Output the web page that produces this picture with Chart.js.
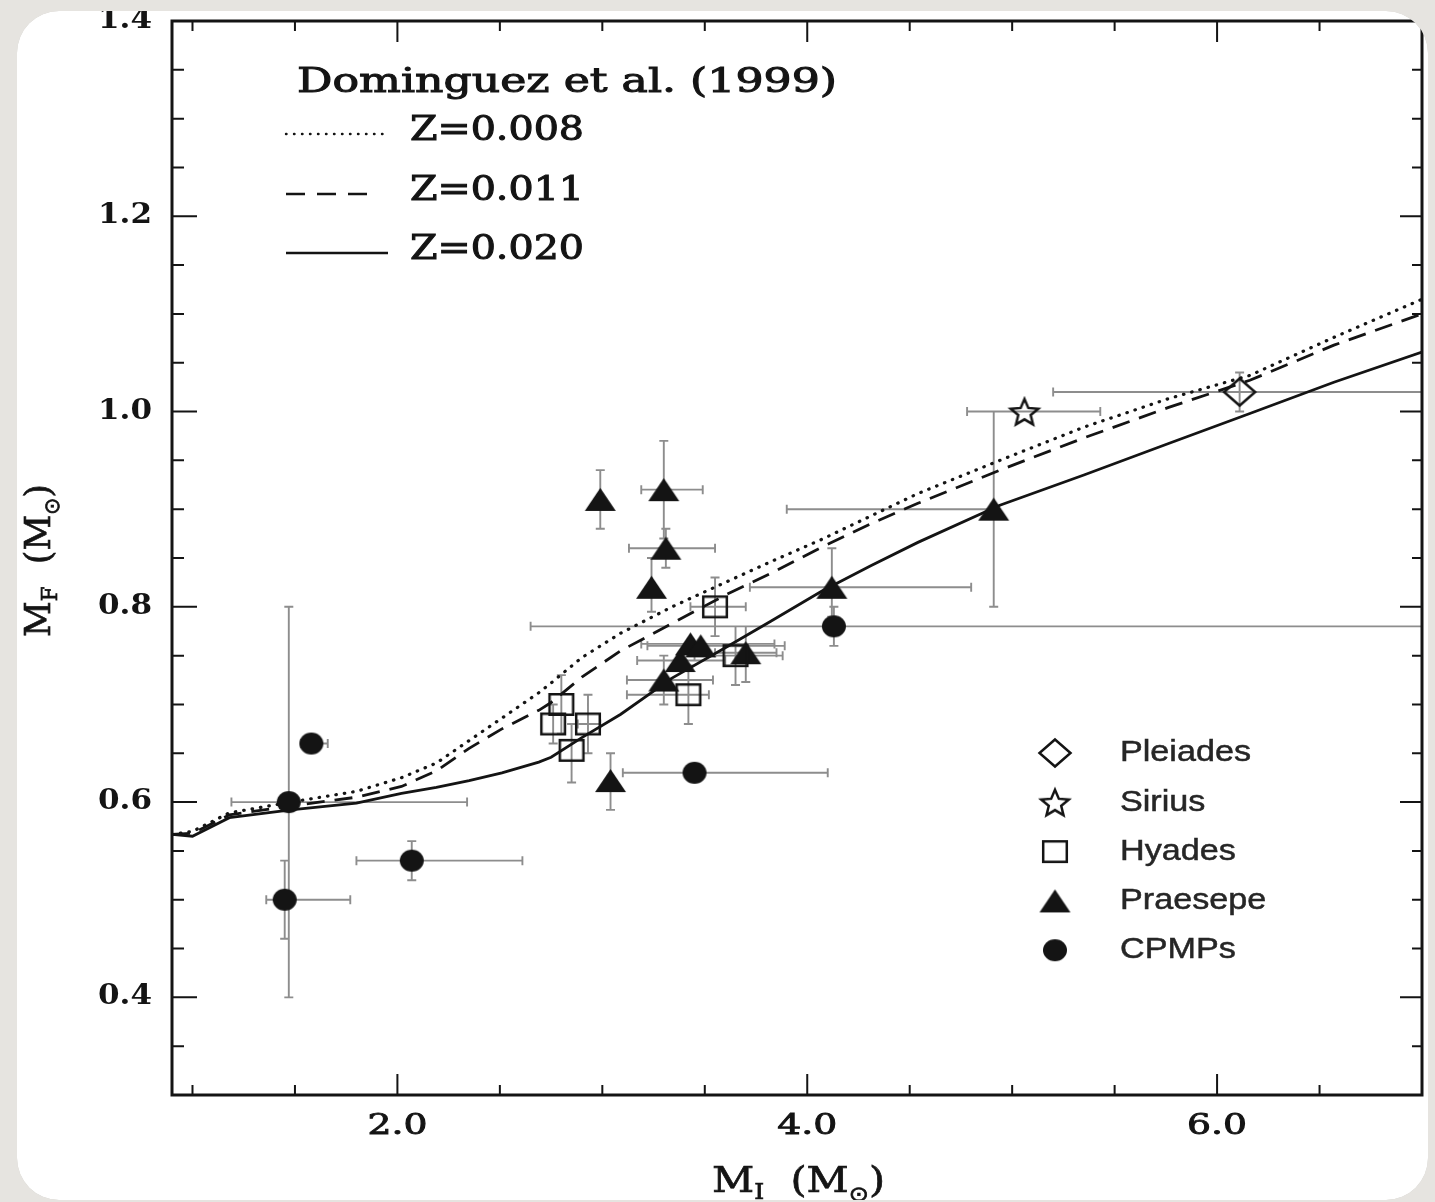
<!DOCTYPE html>
<html>
<head>
<meta charset="utf-8">
<title>Initial-final mass relation</title>
<script src="https://cdn.jsdelivr.net/npm/chart.js@4.4.1/dist/chart.umd.min.js"></script>
<style>
  html, body { margin: 0; padding: 0; background: #e6e4e0; }
  #wrap { width: 1435px; height: 1202px; }
</style>
</head>
<body>
<div id="wrap"><canvas id="ifmr" width="1435" height="1202"></canvas></div>
<script>
  // Dominguez et al. (1999) model relations
  const massGrid = [0.9, 1.0, 1.18, 1.48, 1.8, 2.02, 2.19, 2.35, 2.51, 2.69, 2.75, 2.9, 3.09, 3.34, 3.6, 3.82, 4.07, 4.31, 4.54, 4.94, 5.35, 5.76, 6.16, 6.57, 7.0];
  const modelZ008 = [0.567, 0.570, 0.589, 0.600, 0.611, 0.625, 0.640, 0.663, 0.686, 0.712, 0.722, 0.748, 0.773, 0.800, 0.825, 0.846, 0.869, 0.893, 0.916, 0.950, 0.984, 1.013, 1.037, 1.076, 1.115];
  const modelZ011 = [0.567, 0.568, 0.587, 0.596, 0.605, 0.616, 0.632, 0.655, 0.675, 0.694, 0.702, 0.728, 0.755, 0.783, 0.812, 0.834, 0.861, 0.885, 0.906, 0.940, 0.973, 1.004, 1.032, 1.068, 1.100];
  const modelZ020 = [0.567, 0.565, 0.584, 0.592, 0.599, 0.609, 0.615, 0.622, 0.630, 0.641, 0.646, 0.666, 0.690, 0.727, 0.758, 0.785, 0.816, 0.842, 0.866, 0.904, 0.935, 0.967, 0.998, 1.030, 1.061];

  // cluster white dwarfs: initial mass, final mass, and error ranges
  const pleiadesMi = [6.11];
  const pleiadesMf = [1.02];
  const pleiadesMiErr = [[5.2, 7.2]];
  const pleiadesMfErr = [[1.0, 1.04]];

  const siriusMi = [5.06];
  const siriusMf = [1.0];
  const siriusMiErr = [[4.78, 5.43]];
  const siriusMfErr = [null];

  const hyadesMi = [2.80, 2.76, 2.93, 2.85, 3.42, 3.65, 3.55];
  const hyadesMf = [0.70, 0.68, 0.68, 0.653, 0.71, 0.75, 0.80];
  const hyadesMiErr = [null, null, [2.88, 2.99], null, [3.12, 3.52], [3.45, 3.88], [3.43, 3.70]];
  const hyadesMfErr = [[0.67, 0.73], [0.66, 0.70], [0.65, 0.71], [0.62, 0.68], [0.68, 0.74], [0.72, 0.78], [0.77, 0.83]];

  const praesepeMi = [2.99, 3.30, 3.31, 3.24, 3.30, 3.38, 3.43, 3.48, 3.70, 3.04, 4.12, 4.91];
  const praesepeMf = [0.91, 0.92, 0.86, 0.82, 0.725, 0.745, 0.762, 0.76, 0.753, 0.622, 0.82, 0.90];
  const praesepeMiErr = [null, [3.19, 3.49], [3.13, 3.55], null, [3.12, 3.54], [3.17, 3.60], [3.19, 3.84], [3.22, 3.89], [3.55, 3.85], null, [3.72, 4.80], [3.90, 4.91]];
  const praesepeMfErr = [[0.88, 0.94], [0.87, 0.97], [0.84, 0.88], [0.795, 0.85], [0.70, 0.75], null, null, null, [0.723, 0.78], [0.592, 0.65], [0.79, 0.86], [0.80, 1.00]];

  const cpmpMi = [1.47, 1.45, 1.58, 2.07, 3.45, 4.13];
  const cpmpMf = [0.60, 0.50, 0.66, 0.54, 0.63, 0.78];
  const cpmpMiErr = [[1.19, 2.34], [1.36, 1.77], [1.53, 1.66], [1.80, 2.61], [3.10, 4.10], [2.65, 7.2]];
  const cpmpMfErr = [[0.40, 0.80], [0.46, 0.54], null, [0.52, 0.56], null, [0.76, 0.80]];

  // axes
  const xTickValues = [1.0, 1.5, 2.0, 2.5, 3.0, 3.5, 4.0, 4.5, 5.0, 5.5, 6.0, 6.5];
  const xLabelledTicks = [2.0, 4.0, 6.0];
  const xTickLabels = ["2.0", "4.0", "6.0"];
  const yTickValues = [0.35, 0.4, 0.45, 0.5, 0.55, 0.6, 0.65, 0.7, 0.75, 0.8, 0.85, 0.9, 0.95, 1.0, 1.05, 1.1, 1.15, 1.2, 1.25, 1.3, 1.35, 1.4];
  const yLabelledTicks = [0.4, 0.6, 0.8, 1.0, 1.2, 1.4];
  const yTickLabels = ["0.4", "0.6", "0.8", "1.0", "1.2", "1.4"];

  const modelNames = ["Z=0.008", "Z=0.011", "Z=0.020"];
  const clusterNames = ["Pleiades", "Sirius", "Hyades", "Praesepe", "CPMPs"];

  const INK = "#141414";
  const BAR = "#8d8d8d";
  const PAPER = "#e6e4e0";

  function makeMarker(kind, w, h) {
    const c = document.createElement("canvas");
    c.width = w + 4;
    c.height = h + 4;
    const g = c.getContext("2d");
    g.translate(c.width / 2, c.height / 2);
    g.strokeStyle = INK;
    g.fillStyle = INK;
    g.lineWidth = 2.5;
    g.beginPath();
    if (kind === "triangle") {
      g.moveTo(0, -h / 2);
      g.lineTo(w / 2, h / 2);
      g.lineTo(-w / 2, h / 2);
      g.closePath();
      g.fill();
    } else if (kind === "dot") {
      g.ellipse(0, 0, w / 2, h / 2, 0, 0, Math.PI * 2);
      g.fill();
    } else if (kind === "square") {
      g.rect(-w / 2 + 1.2, -h / 2 + 1.2, w - 2.4, h - 2.4);
      g.stroke();
    } else if (kind === "diamond") {
      g.moveTo(0, -h / 2 + 1.5);
      g.lineTo(w / 2 - 1.5, 0);
      g.lineTo(0, h / 2 - 1.5);
      g.lineTo(-w / 2 + 1.5, 0);
      g.closePath();
      g.stroke();
    } else if (kind === "star") {
      for (let i = 0; i < 10; i++) {
        const r = i % 2 === 0 ? 1 : 0.45;
        const a = -Math.PI / 2 + (i * Math.PI) / 5;
        const px = Math.cos(a) * r * (w / 2 - 1.5);
        const py = Math.sin(a) * r * (h / 2 - 1.5) + 1.5;
        if (i === 0) g.moveTo(px, py);
        else g.lineTo(px, py);
      }
      g.closePath();
      g.stroke();
    }
    return c;
  }

  const markers = {
    diamond: makeMarker("diamond", 34, 30),
    star: makeMarker("star", 32, 31),
    square: makeMarker("square", 26, 23),
    triangle: makeMarker("triangle", 31, 23),
    dot: makeMarker("dot", 24, 22),
  };

  const pts = (xs, ys) => xs.map((v, i) => ({ x: v, y: ys[i] }));

  // fill plus a thin stroke, the scanned original has heavy type
  function inkText(ctx, text, x, y, weight) {
    ctx.fillText(text, x, y);
    if (weight) {
      ctx.lineWidth = weight;
      ctx.strokeStyle = ctx.fillStyle;
      ctx.strokeText(text, x, y);
    }
  }

  function stretchText(ctx, text, x, y, font, sx, align, weight) {
    ctx.save();
    ctx.font = font;
    ctx.textBaseline = "middle";
    ctx.textAlign = "left";
    const w = ctx.measureText(text).width * sx;
    const left = align === "center" ? x - w / 2 : align === "right" ? x - w : x;
    ctx.translate(left, y);
    ctx.scale(sx, 1);
    inkText(ctx, text, 0, 0, weight);
    ctx.restore();
  }

  function fitScale(ctx, text, font, width) {
    ctx.save();
    ctx.font = font;
    const w = ctx.measureText(text).width;
    ctx.restore();
    return width / w;
  }

  // text runs with subscripts: [text, font, dy]
  function runsWidth(ctx, runs) {
    let w = 0;
    runs.forEach(([t, f]) => {
      ctx.font = f;
      w += ctx.measureText(t).width;
    });
    return w;
  }

  function drawRuns(ctx, runs, sx) {
    let cx = 0;
    runs.forEach(([t, f, dy]) => {
      ctx.font = f;
      ctx.save();
      ctx.translate(cx, dy);
      ctx.scale(sx, 1);
      inkText(ctx, t, 0, 0, 0.7);
      ctx.restore();
      cx += ctx.measureText(t).width * sx;
    });
  }

  function panelPath(ctx) {
    const x = 17, y = 11, w = 1411, h = 1189, r = 42;
    ctx.moveTo(x + r, y);
    ctx.arcTo(x + w, y, x + w, y + h, r);
    ctx.arcTo(x + w, y + h, x, y + h, r);
    ctx.arcTo(x, y + h, x, y, r);
    ctx.arcTo(x, y, x + w, y, r);
    ctx.closePath();
  }

  const panel = {
    id: "panel",
    beforeDraw(chart) {
      const ctx = chart.ctx;
      ctx.save();
      ctx.fillStyle = PAPER;
      ctx.fillRect(0, 0, chart.width, chart.height);
      ctx.shadowColor = "rgba(0,0,0,0.18)";
      ctx.shadowBlur = 6;
      ctx.fillStyle = "#ffffff";
      ctx.beginPath();
      panelPath(ctx);
      ctx.fill();
      ctx.restore();
    },
    afterDraw(chart) {
      const ctx = chart.ctx;
      ctx.save();
      ctx.beginPath();
      ctx.rect(0, 0, chart.width, chart.height);
      panelPath(ctx);
      ctx.fillStyle = PAPER;
      ctx.fill("evenodd");
      ctx.restore();
    },
  };

  const errorBars = {
    id: "errorBars",
    beforeDatasetsDraw(chart) {
      const { ctx, chartArea: a } = chart;
      const xs = chart.scales.x;
      const ys = chart.scales.y;
      const cap = 4.5;
      ctx.save();
      ctx.beginPath();
      ctx.rect(a.left, a.top, a.width, a.height);
      ctx.clip();
      ctx.strokeStyle = BAR;
      ctx.lineWidth = 1.9;
      ctx.beginPath();
      chart.data.datasets.forEach((ds) => {
        if (!ds.miErr) return;
        ds.data.forEach((p, i) => {
          const px = xs.getPixelForValue(p.x);
          const py = ys.getPixelForValue(p.y);
          const xe = ds.miErr[i];
          const ye = ds.mfErr[i];
          if (xe) {
            const l = xs.getPixelForValue(xe[0]);
            const r = xs.getPixelForValue(xe[1]);
            ctx.moveTo(l, py); ctx.lineTo(r, py);
            ctx.moveTo(l, py - cap); ctx.lineTo(l, py + cap);
            ctx.moveTo(r, py - cap); ctx.lineTo(r, py + cap);
          }
          if (ye) {
            const b = ys.getPixelForValue(ye[0]);
            const t = ys.getPixelForValue(ye[1]);
            ctx.moveTo(px, b); ctx.lineTo(px, t);
            ctx.moveTo(px - cap, b); ctx.lineTo(px + cap, b);
            ctx.moveTo(px - cap, t); ctx.lineTo(px + cap, t);
          }
        });
      });
      ctx.stroke();
      ctx.restore();
    },
  };

  const near = (list, v) => list.some((u) => Math.abs(u - v) < 1e-6);

  const frame = {
    id: "frame",
    afterDatasetsDraw(chart) {
      const { ctx, chartArea: a } = chart;
      const xs = chart.scales.x;
      const ys = chart.scales.y;
      ctx.save();
      ctx.strokeStyle = INK;
      ctx.fillStyle = INK;

      // inward ticks on all four sides
      ctx.lineWidth = 2;
      ctx.beginPath();
      xs.ticks.forEach((t) => {
        const px = xs.getPixelForValue(t.value);
        const len = near(xLabelledTicks, t.value) ? 21 : 10;
        ctx.moveTo(px, a.bottom); ctx.lineTo(px, a.bottom - len);
        ctx.moveTo(px, a.top); ctx.lineTo(px, a.top + len);
      });
      ys.ticks.forEach((t) => {
        const py = ys.getPixelForValue(t.value);
        const major = near(yLabelledTicks, t.value);
        ctx.moveTo(a.left, py); ctx.lineTo(a.left + (major ? 25 : 12), py);
        ctx.moveTo(a.right, py); ctx.lineTo(a.right - (major ? 22 : 10), py);
      });
      ctx.stroke();
      ctx.lineWidth = 3;
      ctx.strokeRect(a.left, a.top, a.width, a.height);

      // tick labels
      const xFont = '28px "DejaVu Serif"';
      const xsx = fitScale(ctx, "2.0", xFont, 60);
      xLabelledTicks.forEach((v, i) => {
        stretchText(ctx, xTickLabels[i], xs.getPixelForValue(v), a.bottom + 32, xFont, xsx, "center", 0.9);
      });
      const yFont = 'bold 27px "DejaVu Serif"';
      const ysx = fitScale(ctx, "1.2", yFont, 54);
      yLabelledTicks.forEach((v, i) => {
        stretchText(ctx, yTickLabels[i], a.left - 20, ys.getPixelForValue(v), yFont, ysx, "right");
      });

      // axis titles
      const big = '36px "DejaVu Serif"';
      const sub = '22px "DejaVu Serif"';
      const sun = '21px "DejaVu Sans"';
      const xRuns = [["M", big, 0], ["I", sub, 7], ["  (M", big, 0], ["\u2299", sun, 9], [")", big, 0]];
      ctx.save();
      ctx.textBaseline = "alphabetic";
      const xw = runsWidth(ctx, xRuns);
      ctx.translate(712, 1192);
      drawRuns(ctx, xRuns, 173 / xw);
      ctx.restore();

      const yRuns = [["M", big, 0], ["F", sub, 7], ["  (M", big, 0], ["\u2299", sun, 9], [")", big, 0]];
      ctx.save();
      ctx.textBaseline = "alphabetic";
      const yw = runsWidth(ctx, yRuns);
      ctx.translate(50, 637);
      ctx.rotate(-Math.PI / 2);
      drawRuns(ctx, yRuns, 153 / yw);
      ctx.restore();

      // model legend, top left
      const lf = '34px "DejaVu Serif"';
      stretchText(ctx, "Dominguez et al. (1999)", 297, 83, lf, fitScale(ctx, "Dominguez et al. (1999)", lf, 540), "left", 1);
      const zsx = fitScale(ctx, modelNames[0], lf, 174);
      const lineStyles = [
        { y: 134, end: 390, dash: [0.5, 7.5], cap: "round", w: 2.4 },
        { y: 194, end: 377, dash: [19, 12], cap: "butt", w: 2.4 },
        { y: 253, end: 388, dash: [], cap: "butt", w: 2.4 },
      ];
      lineStyles.forEach((s, i) => {
        ctx.save();
        ctx.lineWidth = s.w;
        ctx.lineCap = s.cap;
        ctx.setLineDash(s.dash);
        ctx.beginPath();
        ctx.moveTo(286, s.y);
        ctx.lineTo(s.end, s.y);
        ctx.stroke();
        ctx.restore();
        stretchText(ctx, modelNames[i], 410, s.y - 3, lf, zsx, "left", 1);
      });

      // cluster legend, bottom right
      const cf = '30px "Liberation Sans"';
      const csx = fitScale(ctx, "Pleiades", cf, 131);
      const symbols = [markers.diamond, markers.star, markers.square, markers.triangle, markers.dot];
      clusterNames.forEach((name, i) => {
        const cy = 753 + i * 49.3;
        const m = symbols[i];
        ctx.drawImage(m, 1055 - m.width / 2, cy - m.height / 2);
        ctx.fillStyle = "#262626";
        stretchText(ctx, name, 1120, cy, cf, csx, "left", 0.5);
      });
      ctx.restore();
    },
  };

  const curve = (ys, dash, cap, width) => ({
    data: pts(massGrid, ys),
    showLine: true,
    borderColor: INK,
    borderWidth: width,
    borderDash: dash,
    borderCapStyle: cap,
    pointRadius: 0,
    tension: 0,
    order: 2,
  });

  const cluster = (xs, ys, xe, ye, style) => ({
    data: pts(xs, ys),
    miErr: xe,
    mfErr: ye,
    showLine: false,
    pointStyle: style,
    pointRadius: 12,
    order: 1,
  });

  new Chart(document.getElementById("ifmr"), {
    type: "scatter",
    data: {
      datasets: [
        curve(modelZ008, [0.5, 8], "round", 3.2),
        curve(modelZ011, [18, 10], "butt", 2.8),
        curve(modelZ020, [], "butt", 2.8),
        cluster(cpmpMi, cpmpMf, cpmpMiErr, cpmpMfErr, markers.dot),
        cluster(hyadesMi, hyadesMf, hyadesMiErr, hyadesMfErr, markers.square),
        cluster(praesepeMi, praesepeMf, praesepeMiErr, praesepeMfErr, markers.triangle),
        cluster(siriusMi, siriusMf, siriusMiErr, siriusMfErr, markers.star),
        cluster(pleiadesMi, pleiadesMf, pleiadesMiErr, pleiadesMfErr, markers.diamond),
      ],
    },
    options: {
      responsive: false,
      animation: false,
      events: [],
      layout: { padding: { top: 21, right: 7, left: 0, bottom: 0 } },
      plugins: {
        legend: { display: false },
        tooltip: { enabled: false },
      },
      scales: {
        x: {
          type: "linear",
          min: 0.9,
          max: 7.0,
          grid: { display: false, drawTicks: false },
          border: { display: false },
          ticks: { display: false },
          afterBuildTicks: (s) => { s.ticks = xTickValues.map((v) => ({ value: v })); },
          afterFit: (s) => { s.height = 107; },
        },
        y: {
          type: "linear",
          min: 0.3,
          max: 1.4,
          grid: { display: false, drawTicks: false },
          border: { display: false },
          ticks: { display: false },
          afterBuildTicks: (s) => { s.ticks = yTickValues.map((v) => ({ value: v })); },
          afterFit: (s) => { s.width = 172; },
        },
      },
    },
    plugins: [panel, errorBars, frame],
  });
</script>
</body>
</html>
